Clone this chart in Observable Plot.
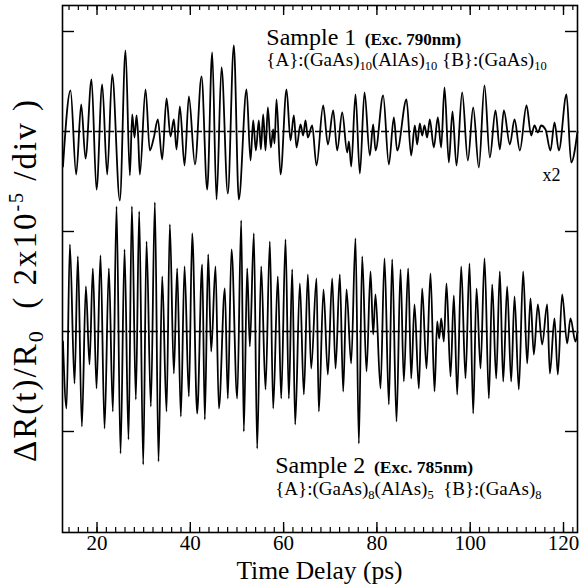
<!DOCTYPE html>
<html>
<head>
<meta charset="utf-8">
<script src="https://cdn.jsdelivr.net/npm/d3@7"></script>
<script src="https://cdn.jsdelivr.net/npm/@observablehq/plot@0.6"></script>
<style>
  html, body { margin: 0; padding: 0; background: white; }
  #chart svg { display: block; }
</style>
</head>
<body>
<div id="chart"></div>
<script>
// ---- Data (time in ps, signal in divisions) ----
// Sample 1 (shown x2), extrema and turning points
const s1Time = [12.7,14.32,15.53,16.61,17.53,18.82,19.89,21.11,22.18,23.25,24.89,26.11,27.04,27.54,28.04,28.47,28.82,29.18,30.40,31.32,32.18,33.04,33.97,34.90,35.76,36.47,37.04,37.76,38.76,39.69,41.0,42.40,43.62,44.69,45.62,46.69,48.04,49.33,50.40,52.05,52.91,53.48,54.05,54.69,55.12,55.62,56.12,56.62,57.26,57.76,58.05,58.48,59.34,60.62,61.48,62.19,62.77,63.62,64.19,64.69,65.19,66.12,67.05,68.48,69.49,70.63,71.48,72.56,73.63,74.0,74.49,75.41,76.34,77.34,78.48,79.20,79.70,81.34,82.56,83.63,84.34,86.34,87.34,88.13,88.63,89.20,89.70,90.20,90.77,91.34,92.20,93.06,93.77,94.49,95.42,96.2,97.06,98.28,99.49,100.64,101.85,103.06,104.21,105.42,106.35,107.21,108.50,109.50,110.64,112.07,113.07,113.78,114.50,115.21,116.14,117.21,118.07,119.0,120.64,121.64,123.0];
const s1Value = [-0.35,0.41,-0.43,0.27,-0.27,0.52,-0.58,0.47,-0.43,0.57,-0.69,0.81,-0.44,0.17,-0.06,0.16,-0.05,-0.43,0.42,-0.19,-0.06,0.12,-0.28,0.33,-0.05,0.12,-0.18,0.25,-0.34,0.35,-0.33,0.55,-0.58,0.79,-0.68,0.64,-0.62,0.86,-0.68,0.42,-0.29,0.11,-0.19,0.11,-0.18,0.17,-0.19,0.24,-0.16,0.02,-0.12,0.32,-0.43,0.42,-0.09,0.16,-0.16,0.07,-0.04,0.11,-0.06,0.06,-0.34,0.26,-0.13,0.21,-0.19,0.19,-0.21,-0.10,-0.35,0.37,-0.42,0.39,-0.24,0.07,-0.19,0.36,-0.33,0.14,-0.19,0.32,-0.24,0.06,-0.13,0.08,-0.04,0.06,-0.06,0.12,-0.16,0.14,-0.16,0.44,-0.31,0.2,-0.34,0.39,-0.29,0.24,-0.36,0.46,-0.26,0.21,-0.18,0.21,-0.13,0.12,-0.19,0.26,-0.04,0.06,-0.01,0.06,0.02,-0.19,0.09,-0.19,0.37,-0.31,0.0];

// Sample 2
const s2Time = [12.7,13.46,14.18,15.18,15.89,16.75,17.61,18.39,19.11,19.89,20.75,21.61,22.54,23.39,24.18,25.04,25.90,26.75,27.47,28.32,29.04,29.90,30.61,31.54,32.40,33.18,33.97,34.90,35.61,36.47,37.18,37.97,38.76,39.69,40.40,41.47,42.54,43.11,43.83,44.47,45.40,46.12,47.40,48.04,48.83,50.05,50.91,51.47,52.19,52.76,53.62,54.33,55.19,56.12,57.05,57.76,58.76,59.48,60.41,61.12,61.84,62.48,63.48,64.34,65.19,65.91,67.05,67.55,68.55,69.48,70.41,71.13,72.05,72.77,73.48,74.48,75.41,76.13,76.84,77.77,78.63,79.20,79.70,80.77,81.63,82.56,83.27,84.20,85.06,85.77,86.70,87.35,88.06,88.99,89.70,90.63,91.49,92.35,92.92,93.35,93.78,94.35,94.92,95.78,96.49,97.21,98.07,98.99,99.85,100.64,101.35,102.21,103.07,104.00,104.71,105.57,106.35,107.07,107.92,108.78,109.50,110.42,111.35,112.21,112.92,113.64,114.50,115.42,116.50,117.07,118.07,118.78,119.71,120.78,121.49,122.57,123.0];
const s2Value = [-0.1,-0.77,0.87,-0.52,0.75,-0.95,0.45,-0.33,0.63,-0.57,0.76,-0.97,0.63,-0.80,1.25,-1.22,0.82,-1.08,1.25,-0.68,1.20,-1.33,0.90,-0.75,1.29,-1.30,0.55,-0.80,1.07,-0.42,0.63,-0.85,0.65,-0.65,0.98,-0.82,0.67,-0.88,0.77,-0.20,0.65,-0.77,0.43,-0.67,0.82,-0.67,1.11,-1.0,0.63,-0.15,0.98,-1.17,0.65,-0.58,0.90,-0.77,0.55,-0.67,0.92,-0.67,0.62,-0.93,0.48,-0.63,0.57,-0.37,0.53,-0.80,0.42,-0.43,0.53,-0.37,0.57,-0.60,0.42,-0.32,0.93,-1.12,0.75,-0.40,0.60,-0.03,0.37,-0.57,0.73,-0.73,0.72,-0.90,0.62,-0.50,0.63,-0.47,0.27,-0.57,0.43,-0.37,0.58,-0.60,0.10,-0.07,0.13,-0.10,0.48,-0.45,0.36,-0.63,0.65,-0.47,0.68,-0.82,0.43,-0.37,0.73,-0.67,0.47,-0.47,0.60,-0.50,0.45,-0.50,0.35,-0.58,0.60,-0.32,0.33,-0.23,0.27,-0.13,0.27,-0.42,0.13,-0.43,0.37,-0.12,0.13,-0.10,0.0];

// Axis ticks / labels
const xTickLabels = [20, 40, 60, 80, 100, 120];
const xMinorTicks = [14,16,18,20,22,24,26,28,30,32,34,36,38,40,42,44,46,48,50,52,54,56,58,60,62,64,66,68,70,72,74,76,78,80,82,84,86,88,90,92,94,96,98,100,102,104,106,108,110,112,114,116,118,120,122];
const yTicks = [-1, 1, 3];
const baselines = [0, 2];

// ---- Layout ----
const W = 579, H = 584;
const mL = 62, mR = 2, mT = 5, mB = 52;
const xDom = [12.6, 123.0];
const yDom = [-2.01, 3.26];
const offset1 = 2; // sample 1 drawn two divisions above sample 2
const serif = "'Liberation Serif', 'Times New Roman', Times, serif";

const pxPerY = (H - mT - mB) / (yDom[1] - yDom[0]);
const pxPerX = (W - mL - mR) / (xDom[1] - xDom[0]);

const s1 = s1Time.map((t, i) => ({t, v: s1Value[i] + offset1}));
const s2 = s2Time.map((t, i) => ({t, v: s2Value[i]}));

const plot = Plot.plot({
  width: W, height: H,
  marginLeft: mL, marginRight: mR, marginTop: mT, marginBottom: mB,
  x: {domain: xDom},
  y: {domain: yDom, axis: null},
  style: {fontFamily: serif, fontSize: "21px", color: "black", background: "white"},
  marks: [
    Plot.ruleY(baselines, {stroke: "black", strokeWidth: 1.5, strokeDasharray: "8,3"}),
    Plot.line(s1, {x: "t", y: "v", curve: "monotone-x", stroke: "black", strokeWidth: 1.8}),
    Plot.line(s2, {x: "t", y: "v", curve: "monotone-x", stroke: "black", strokeWidth: 1.8}),
    // inward ticks on bottom and top
    Plot.ruleX(xMinorTicks, {x: d => d, y1: yDom[0], y2: yDom[0] + 5 / pxPerY, stroke: "black", strokeWidth: 1.2}),
    Plot.ruleX(xMinorTicks, {x: d => d, y1: yDom[1], y2: yDom[1] - 5 / pxPerY, stroke: "black", strokeWidth: 1.2}),
    Plot.ruleX(xTickLabels, {x: d => d, y1: yDom[0], y2: yDom[0] + 10 / pxPerY, stroke: "black", strokeWidth: 1.4}),
    Plot.ruleX(xTickLabels, {x: d => d, y1: yDom[1], y2: yDom[1] - 10 / pxPerY, stroke: "black", strokeWidth: 1.4}),
    // inward ticks on left and right
    Plot.ruleY(yTicks, {y: d => d, x1: xDom[0], x2: xDom[0] + 12 / pxPerX, stroke: "black", strokeWidth: 1.4}),
    Plot.ruleY(yTicks, {y: d => d, x1: xDom[1], x2: xDom[1] - 12 / pxPerX, stroke: "black", strokeWidth: 1.4}),
    Plot.frame({stroke: "black", strokeWidth: 1.6}),
    Plot.axisX(xTickLabels, {tickSize: 0, tickPadding: 3, label: null, fontSize: 21})
  ]
});

document.getElementById("chart").appendChild(plot);

// ---- Annotations with sub/superscripts ----
const svg = d3.select(plot);
const xs = plot.scale("x"), ys = plot.scale("y");
const X = v => xs.apply(v), Y = v => ys.apply(v);

function rich(x, y, parts, base, extra) {
  const t = svg.append("text")
    .attr("x", x).attr("y", y)
    .attr("font-family", serif)
    .attr("font-size", base)
    .attr("fill", "black")
    .attr("text-anchor", "start")
    .style("white-space", "pre");
  if (extra) extra(t);
  let cur = 0;
  for (const p of parts) {
    const shift = p.shift || 0;
    const ts = t.append("tspan").text(p.text).attr("dy", shift - cur).attr("fill", "black");
    if (p.size) ts.attr("font-size", p.size);
    if (p.weight) ts.attr("font-weight", p.weight);
    cur = shift;
  }
  return t;
}

// Sample 1
rich(X(56.4), Y(2.86), [
  {text: "Sample 1"},
  {text: "  (Exc. 790nm)", size: 17, weight: "bold"}
], 24);
rich(X(56.4), Y(2.65), [
  {text: "{A}:(GaAs)"},
  {text: "10", size: 12.5, shift: 4},
  {text: "(AlAs)"},
  {text: "10", size: 12.5, shift: 4},
  {text: " {B}:(GaAs)"},
  {text: "10", size: 12.5, shift: 4}
], 19);
rich(X(115.6), Y(1.50), [{text: "x2"}], 18);

// Sample 2
rich(X(58.3), Y(-1.42), [
  {text: "Sample 2"},
  {text: "  (Exc. 785nm)", size: 17.5, weight: "bold"}
], 24);
rich(X(58.3), Y(-1.64), [
  {text: "{A}:(GaAs)"},
  {text: "8", size: 12.5, shift: 4},
  {text: "(AlAs)"},
  {text: "5", size: 12.5, shift: 4},
  {text: "  {B}:(GaAs)"},
  {text: "8", size: 12.5, shift: 4}
], 19);

// Axis titles
rich((mL + W - mR) / 2, 578.5, [{text: "Time Delay (ps)"}], 25.5, t => t.attr("text-anchor", "middle"));
rich(0, 0, [
  {text: "ΔR(t)/R"},
  {text: "0", size: 22, shift: 7},
  {text: "  ( 2x10"},
  {text: "-5", size: 20, shift: -13},
  {text: " /div )"}
], 33, t => t.attr("text-anchor", "middle").attr("letter-spacing", 2).attr("transform", "translate(36,280) rotate(-90)"));
</script>
</body>
</html>
